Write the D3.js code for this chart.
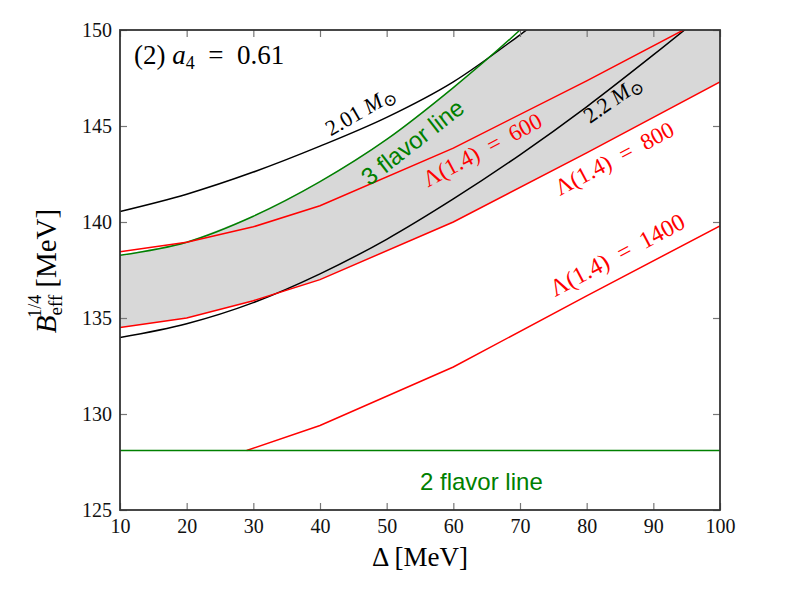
<!DOCTYPE html>
<html>
<head>
<meta charset="utf-8">
<script src="https://cdnjs.cloudflare.com/ajax/libs/d3/7.8.5/d3.min.js"></script>
<style>
body { margin: 0; background: #fff; }
text { font-family: 'Liberation Serif', 'DejaVu Serif', serif; }
.sans { font-family: 'Liberation Sans', Arial, sans-serif; }
</style>
</head>
<body>
<div id="chart"></div>
<script>
var w = 800,
	h = 600,
	x0 = 120,
	y0 = 30,
	x1 = 720,
	y1 = 510;

// values
var deltas = [10, 20, 30, 40, 50, 60, 70, 80];
var mass201 = [140.55, 141.45, 142.6, 143.95, 145.45, 147.3, 149.75, 152.4];
var flavor3 = [138.27, 138.95, 140.3, 142.1, 144.3, 147.0, 150.0, 153.4];
var deltas22 = [10, 20, 30, 40, 50, 60, 70, 80, 90, 100];
var mass22 = [133.98, 134.7, 135.8, 137.3, 139.1, 141.2, 143.5, 146.0, 148.7, 151.5];
var lamDeltas = [10, 20, 30, 40, 60, 80, 100];
var lam600 = [138.45, 138.95, 139.75, 140.85, 143.85, 147.35, 151.0];
var lam800 = [134.5, 135.0, 135.9, 137.0, 140.0, 143.6, 147.3];
var lam1400Deltas = [29, 40, 60, 80, 100];
var lam1400 = [128.1, 129.4, 132.45, 136.15, 139.8];
var flavor2 = 128.1;
var xTicks = [10, 20, 30, 40, 50, 60, 70, 80, 90, 100];
var yTicks = [125, 130, 135, 140, 145, 150];

var x = d3.scaleLinear().domain([10, 100]).range([x0, x1]);
var y = d3.scaleLinear().domain([125, 150]).range([y1, y0]);

function pairs(xs, ys) {
	return xs.map(function(d, i) { return [d, ys[i]]; });
}

// piecewise interpolators built from the read points, used for the band
function interp(xs, ys) {
	return d3.scaleLinear().domain(xs).range(ys).clamp(true);
}

var svg = d3.select('#chart').append('svg')
	.attr('width', w)
	.attr('height', h);

svg.append('defs').append('clipPath')
	.attr('id', 'plot')
	.append('rect')
	.attr('x', x0).attr('y', y0)
	.attr('width', x1 - x0).attr('height', y1 - y0);

var g = svg.append('g').attr('clip-path', 'url(#plot)');

// shaded band: below min(3 flavor, 2.01 Msun), above Lambda=800
var up201 = interp(deltas, mass201),
	up3 = interp(deltas, flavor3),
	low800 = interp(lamDeltas, lam800);
var band = d3.range(10, 100.01, 0.5);

g.append('path')
	.datum(band)
	.attr('d', d3.area()
		.x(function(d) { return x(d); })
		.y0(function(d) { return y(low800(d)); })
		.y1(function(d) { return y(Math.min(up201(d), up3(d), 150)); }))
	.style('fill', '#d8d8d8')
	.style('stroke', 'none');

var smooth = d3.line()
	.x(function(d) { return x(d[0]); })
	.y(function(d) { return y(d[1]); })
	.curve(d3.curveMonotoneX);
var straight = d3.line()
	.x(function(d) { return x(d[0]); })
	.y(function(d) { return y(d[1]); });

var lines = [
	{pts: pairs(deltas, mass201), color: 'black', gen: smooth},
	{pts: pairs(deltas22, mass22), color: 'black', gen: smooth},
	{pts: pairs(deltas, flavor3), color: 'green', gen: smooth},
	{pts: pairs(lamDeltas, lam600), color: 'red', gen: straight},
	{pts: pairs(lamDeltas, lam800), color: 'red', gen: straight},
	{pts: pairs(lam1400Deltas, lam1400), color: 'red', gen: straight},
	{pts: [[10, flavor2], [100, flavor2]], color: 'green', gen: straight}
];

g.selectAll('path.curve')
	.data(lines)
	.enter().append('path')
	.attr('class', 'curve')
	.attr('d', function(d) { return d.gen(d.pts); })
	.style('fill', 'none')
	.style('stroke', function(d) { return d.color; })
	.style('stroke-width', 1.5);

// axes, ticks inside on all four sides
function styleAxis(sel) {
	sel.select('.domain').remove();
	sel.selectAll('.tick line').style('stroke', '#777').style('stroke-width', 1.2);
	sel.selectAll('.tick text')
		.style('font-family', "'Liberation Serif', serif")
		.style('font-size', '20px')
		.style('fill', '#111');
}

svg.append('g')
	.attr('transform', 'translate(0,' + y1 + ')')
	.call(d3.axisBottom(x).tickValues(xTicks).tickSize(-7).tickPadding(9))
	.call(styleAxis);
svg.append('g')
	.attr('transform', 'translate(0,' + y0 + ')')
	.call(d3.axisTop(x).tickValues(xTicks).tickSize(-7).tickFormat(''))
	.call(styleAxis);
svg.append('g')
	.attr('transform', 'translate(' + x0 + ',0)')
	.call(d3.axisLeft(y).tickValues(yTicks).tickSize(-7).tickPadding(8))
	.call(styleAxis);
svg.append('g')
	.attr('transform', 'translate(' + x1 + ',0)')
	.call(d3.axisRight(y).tickValues(yTicks).tickSize(-7).tickFormat(''))
	.call(styleAxis);

svg.append('rect')
	.attr('x', x0).attr('y', y0)
	.attr('width', x1 - x0).attr('height', y1 - y0)
	.style('fill', 'none')
	.style('stroke', '#333')
	.style('stroke-width', 1.8);

// axis titles
svg.append('text')
	.attr('x', (x0 + x1) / 2)
	.attr('y', 566)
	.attr('text-anchor', 'middle')
	.style('font-size', '27px')
	.text('\u0394 [MeV]');

var yl = svg.append('text')
	.attr('transform', 'translate(56,271) rotate(-90)')
	.attr('text-anchor', 'middle')
	.style('font-size', '29px');
yl.append('tspan').style('font-style', 'italic').text('B');
yl.append('tspan').attr('dy', 6).style('font-size', '19px').text('eff');
yl.append('tspan').attr('dx', -23).attr('dy', -21).style('font-size', '18px').text('1/4');
yl.append('tspan').attr('dx', 7).attr('dy', 15).text('[MeV]');

// panel title
var tt = svg.append('text')
	.attr('x', 134)
	.attr('y', 64)
	.style('font-size', '27px');
tt.append('tspan').text('(2) ');
tt.append('tspan').style('font-style', 'italic').text('a');
tt.append('tspan').attr('dy', 5).style('font-size', '18px').text('4');
tt.append('tspan').attr('dy', -5).text('\u2002=\u20020.61');

// curve label anchored at (delta, B), rotated by angle
function label(dx, by, angle, color, size, cls, parts) {
	var t = svg.append('text')
		.attr('class', cls)
		.attr('transform', 'translate(' + x(dx) + ',' + y(by) + ') rotate(' + angle + ')')
		.style('fill', color)
		.style('font-size', size + 'px');
	parts.forEach(function(p) {
		var s = t.append('tspan').text(p.t);
		if (p.it) s.style('font-style', 'italic');
		if (p.sub) s.attr('dy', 4).style('font-size', (size - 5) + 'px');
	});
}

label(41.6, 144.45, -30, 'black', 22, '', [{t: '2.01 '}, {t: 'M', it: true}, {t: '\u2299', sub: true}]);
label(80.5, 145.1, -35, 'black', 22, '', [{t: '2.2 '}, {t: 'M', it: true}, {t: '\u2299', sub: true}]);
label(47.4, 141.85, -38, 'green', 24, 'sans', [{t: '3 flavor line'}]);
label(56.2, 141.8, -28, 'red', 23, '', [{t: '\u039B(1.4)\u2002=\u2002600'}]);
label(76, 141.35, -28, 'red', 23, '', [{t: '\u039B(1.4)\u2002=\u2002800'}]);
label(75.3, 136.1, -28, 'red', 24, '', [{t: '\u039B(1.4)\u2002=\u20021400'}]);

svg.append('text')
	.attr('class', 'sans')
	.attr('x', 420)
	.attr('y', 490)
	.style('fill', 'green')
	.style('font-size', '24px')
	.text('2 flavor line');
</script>
</body>
</html>
